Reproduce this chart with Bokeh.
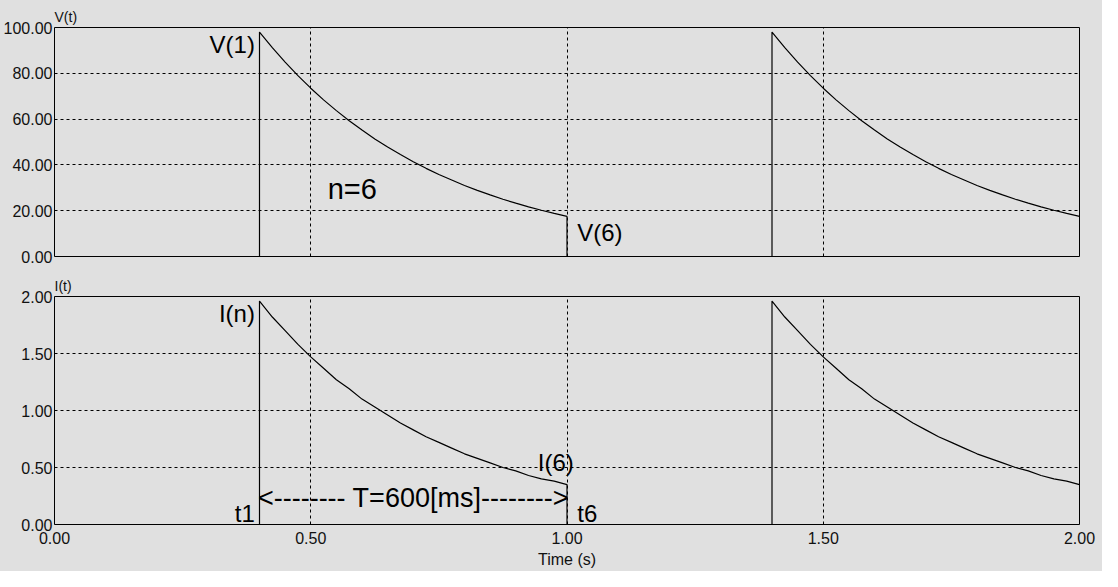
from bokeh.plotting import figure
from bokeh.layouts import column
from bokeh.models import FixedTicker, PrintfTickFormatter, Label
from bokeh.embed import file_html
from bokeh.resources import INLINE

# ---- data ----
pulse_starts = [0.40, 1.40]
pulse_offset = [0.000, 0.025, 0.050, 0.075, 0.100, 0.125, 0.150, 0.175, 0.200,
                0.225, 0.250, 0.275, 0.300, 0.325, 0.350, 0.375, 0.400, 0.425,
                0.450, 0.475, 0.500, 0.525, 0.550, 0.575, 0.600]
v_pulse = [98.0, 91.2, 84.9, 79.0, 73.5, 68.4, 63.7, 59.3, 55.2, 51.3, 47.8, 44.5,
           41.4, 38.5, 35.8, 33.4, 31.0, 28.9, 26.9, 25.0, 23.3, 21.7, 20.2, 18.8, 17.5]
i_pulse = [1.96, 1.82, 1.70, 1.58, 1.47, 1.37, 1.27, 1.19, 1.10, 1.03, 0.96, 0.89,
           0.83, 0.77, 0.72, 0.67, 0.62, 0.58, 0.54, 0.50, 0.47, 0.43, 0.40, 0.38, 0.35]
x_ticks = [0.0, 0.5, 1.0, 1.5, 2.0]
v_ticks = [0, 20, 40, 60, 80, 100]
i_ticks = [0.0, 0.5, 1.0, 1.5, 2.0]
x_end = 2.0


def build(values):
    t, y = [0.0], [0.0]
    for s in pulse_starts:
        t.append(s); y.append(0.0)
        t += [s + o for o in pulse_offset]
        y += list(values)
        end = s + pulse_offset[-1]
        if end < x_end:
            t.append(end); y.append(0.0)
    return t, y


t_v, v_series = build(v_pulse)
t_i, i_series = build(i_pulse)

BG = "#E0E0E0"
FONT = "Liberation Sans"
W = 1102


def make_fig(height, y_end, y_ticks, title, top, bottom, show_x):
    p = figure(width=W, height=height, x_range=(0, 2), y_range=(0, y_end),
               output_backend="svg", toolbar_location=None,
               min_border_left=54, min_border_right=23,
               min_border_top=top, min_border_bottom=bottom)
    p.background_fill_color = BG
    p.border_fill_color = BG
    p.outline_line_color = "black"
    p.outline_line_width = 1
    p.title.text = title
    p.title.text_font = FONT
    p.title.text_font_size = "14px"
    p.title.text_font_style = "normal"
    p.title.text_color = "#111111"
    p.title.standoff = 5
    p.title.offset = 0
    p.title.align = "left"

    p.xaxis.ticker = FixedTicker(ticks=x_ticks)
    p.yaxis.ticker = FixedTicker(ticks=y_ticks)
    p.xaxis.formatter = PrintfTickFormatter(format="%.2f")
    p.yaxis.formatter = PrintfTickFormatter(format="%.2f")
    for ax in (p.xaxis[0], p.yaxis[0]):
        ax.major_tick_in = 0
        ax.major_tick_out = 0
        ax.minor_tick_in = 0
        ax.minor_tick_out = 0
        ax.axis_line_color = None
        ax.major_label_text_font = FONT
        ax.major_label_text_font_size = "16px"
        ax.major_label_text_color = "#111111"
    p.yaxis.major_label_standoff = 2
    if show_x:
        p.xaxis.major_label_standoff = 7
        p.xaxis.axis_label = "Time (s)"
        p.xaxis.axis_label_text_font = FONT
        p.xaxis.axis_label_text_font_size = "16px"
        p.xaxis.axis_label_text_font_style = "normal"
        p.xaxis.axis_label_text_color = "#111111"
        p.xaxis.axis_label_standoff = 4
    else:
        p.xaxis.visible = False

    for g in (p.xgrid[0], p.ygrid[0]):
        g.grid_line_color = "black"
        g.grid_line_dash = "3 3"
        g.grid_line_width = 1
    return p


def lab(p, x, y, text, align, size="24px"):
    p.add_layout(Label(x=x, y=y, text=text, text_align=align,
                       text_baseline="middle", text_font=FONT,
                       text_font_size=size, text_color="black"))


p1 = make_fig(273, 100, v_ticks, "V(t)", 27, 17, False)
p1.line(t_v, v_series, line_color="black", line_width=1.2)
lab(p1, 0.391, 92.5, "V(1)", "right")
lab(p1, 0.533, 29.5, "n=6", "left", "29px")
lab(p1, 1.020, 10.5, "V(6)", "left")

p2 = make_fig(298, 2, i_ticks, "I(t)", 22, 47, True)
p2.line(t_i, i_series, line_color="black", line_width=1.2)
lab(p2, 0.391, 1.85, "I(n)", "right")
lab(p2, 0.978, 0.54, "I(6)", "center")
lab(p2, 0.391, 0.10, "t1", "right")
lab(p2, 1.020, 0.10, "t6", "left")
lab(p2, 0.7005, 0.236, "<-------- T=600[ms]-------->", "center", "27px")

layout = column(p1, p2, spacing=0)
layout.styles = {"background-color": BG}

open("out.html", "w").write(file_html(layout, INLINE))
